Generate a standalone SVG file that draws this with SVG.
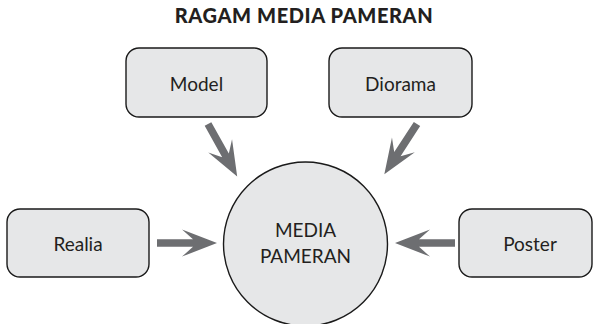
<svg xmlns="http://www.w3.org/2000/svg" width="595" height="324" viewBox="0 0 595 324">
  <style>
    .box { fill: #e6e7e8; stroke: #1a1a1a; stroke-width: 1.4; }
    .lbl { font-family: Lato, "Open Sans", "Liberation Sans", sans-serif; font-size: 19px; fill: #231f20; text-anchor: middle; }
    .title { font-family: Lato, "Open Sans", "Liberation Sans", sans-serif; font-size: 20px; font-weight: 900; letter-spacing: 0.6px; fill: #231f20; text-anchor: middle; }
    .arrow { fill: #6d6e71; }
  </style>
  <defs>
    <!-- block arrow pointing along +x, tail at origin, tip at x=60 -->
    <path id="blockArrow" d="M0,-3.8 L36,-3.8 L25,-13.6 L60,0 L25,13.6 L36,3.8 L0,3.8 Z"/>
  </defs>
  <rect width="595" height="324" fill="#ffffff"/>

  <text class="title" x="304" y="23">RAGAM MEDIA PAMERAN</text>

  <g id="connectors" class="arrow">
    <use href="#blockArrow" transform="translate(208,124) rotate(60.9)"/>
    <use href="#blockArrow" transform="translate(417,124) rotate(123)"/>
    <use href="#blockArrow" transform="translate(157,243)"/>
    <use href="#blockArrow" transform="translate(455,243) rotate(180)"/>
  </g>

  <g id="model">
    <rect class="box" x="126" y="48" width="141" height="69" rx="13"/>
    <text class="lbl" x="196.5" y="91">Model</text>
  </g>
  <g id="diorama">
    <rect class="box" x="329" y="48" width="143" height="69" rx="13"/>
    <text class="lbl" x="400.5" y="91">Diorama</text>
  </g>
  <g id="realia">
    <rect class="box" x="7" y="209" width="142" height="68" rx="13"/>
    <text class="lbl" x="78" y="251">Realia</text>
  </g>
  <g id="poster">
    <rect class="box" x="459" y="209" width="133" height="68" rx="13"/>
    <text class="lbl" x="530" y="251">Poster</text>
  </g>
  <g id="media-pameran">
    <circle class="box" cx="305.5" cy="244" r="82"/>
    <text class="lbl" x="305.5" y="237">MEDIA</text>
    <text class="lbl" x="305.5" y="263">PAMERAN</text>
  </g>
</svg>
